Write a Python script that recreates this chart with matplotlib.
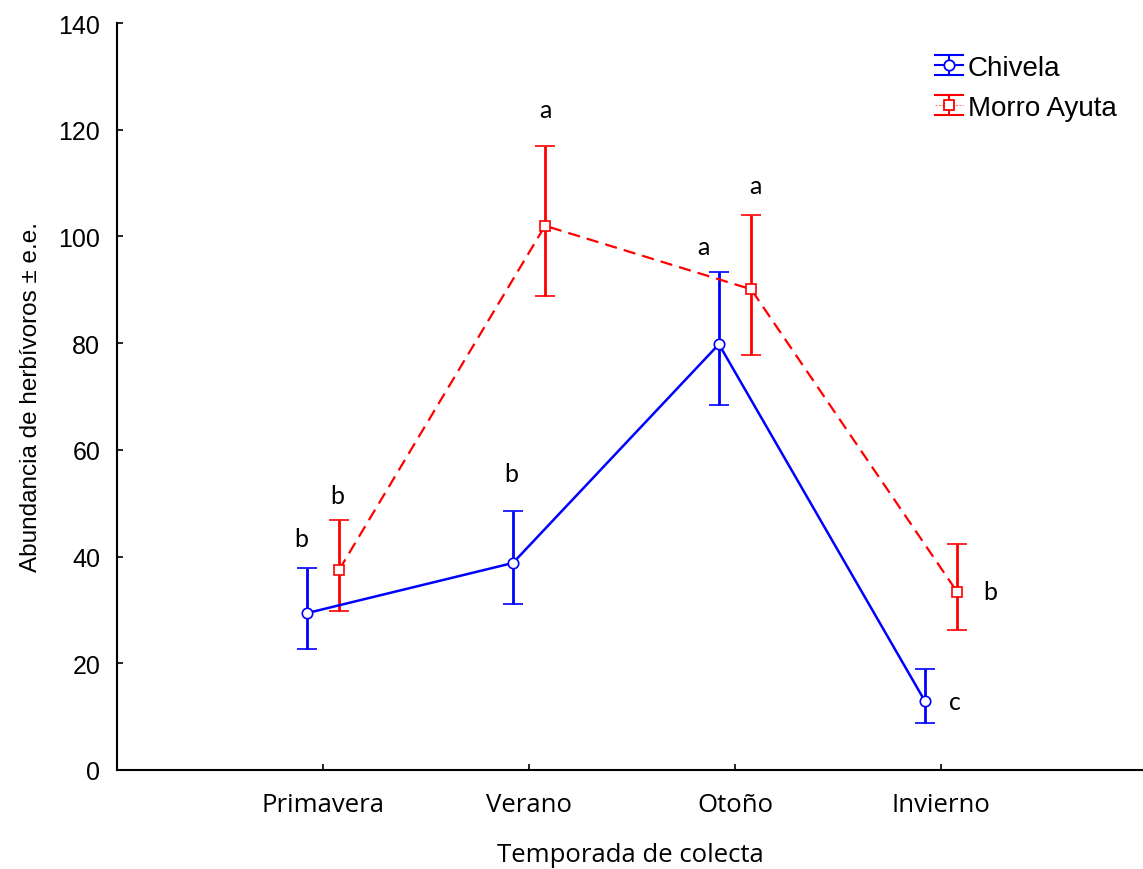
import matplotlib
matplotlib.use("Agg")
import matplotlib.pyplot as plt
from matplotlib.legend_handler import HandlerBase
from matplotlib.lines import Line2D
import numpy as np

# ---- data ----
seasons = ["Primavera", "Verano", "Otoño", "Invierno"]
chivela_mean = [29.4, 38.8, 79.8, 12.9]
chivela_upper = [37.9, 48.5, 93.3, 18.9]
chivela_lower = [22.7, 31.1, 68.4, 8.8]
morro_mean = [37.5, 102.0, 90.1, 33.4]
morro_upper = [46.9, 116.9, 104.0, 42.4]
morro_lower = [29.8, 88.8, 77.8, 26.2]
chivela_letters = ["b", "b", "a", "c"]
morro_letters = ["b", "a", "a", "b"]

# ---- figure ----
DPI = 100
W, H = 1143, 870
fig = plt.figure(figsize=(W / DPI, H / DPI), dpi=DPI)
ax = fig.add_axes([117/W, 1-771/H, 1-117/W, (771-24)/H])

x = np.arange(1, len(seasons) + 1)
off = 0.078
xc = x - off
xm = x + off

c_mean = np.array(chivela_mean)
m_mean = np.array(morro_mean)
c_err = [c_mean - np.array(chivela_lower), np.array(chivela_upper) - c_mean]
m_err = [m_mean - np.array(morro_lower), np.array(morro_upper) - m_mean]

BLUE = "#0000ff"
RED = "#ff0000"

eb1 = ax.errorbar(xc, c_mean, yerr=c_err, color=BLUE, lw=1.8, elinewidth=2.0,
                  capsize=7.5, capthick=2.0, marker="o", ms=7.5,
                  mfc="white", mec=BLUE, mew=1.2, label="Chivela", zorder=3)
eb2 = ax.errorbar(xm, m_mean, yerr=m_err, color=RED, lw=1.6, elinewidth=2.0,
                  capsize=7.5, capthick=2.0, marker="s", ms=7,
                  mfc="white", mec=RED, mew=1.2, label="Morro Ayuta", zorder=3)
eb2[0].set_dashes((5.5, 3.2))

# letters
letter_font = dict(family=["Lato", "DejaVu Sans"], fontsize=18, ha="center", va="center")
c_offsets = [(-6, 29), (-2, 38), (-15, 26), (30, 0)]
m_offsets = [(-2, 24), (0, 37), (4, 30), (33, 0)]
for i in range(len(seasons)):
    cy = chivela_upper[i] if i < 3 else chivela_mean[i]
    ax.annotate(chivela_letters[i], (xc[i], cy),
                xytext=(c_offsets[i][0]*72/DPI, c_offsets[i][1]*72/DPI),
                textcoords="offset points", **letter_font)
    my = morro_upper[i] if i < 3 else morro_mean[i]
    ax.annotate(morro_letters[i], (xm[i], my),
                xytext=(m_offsets[i][0]*72/DPI, m_offsets[i][1]*72/DPI),
                textcoords="offset points", **letter_font)

ax.set_xlim(0, 1026/206)
ax.set_ylim(0, 140)
ax.set_yticks(np.arange(0, 141, 20))
ax.set_xticks(x)
ax.set_xticklabels(seasons, fontsize=18.5, family=["Open Sans", "DejaVu Sans"])
for t in ax.get_yticklabels():
    t.set_fontfamily(["Liberation Sans", "DejaVu Sans"])
    t.set_fontsize(18)
ax.tick_params(direction="in", length=4, width=1.2)
ax.tick_params(axis="y", pad=12)
ax.tick_params(axis="x", pad=16)
for s in ["top", "right"]:
    ax.spines[s].set_visible(False)
for s in ["left", "bottom"]:
    ax.spines[s].set_linewidth(1.5)

ax.set_xlabel("Temporada de colecta", fontsize=18.5,
              family=["Open Sans", "DejaVu Sans"], labelpad=18)
ax.set_ylabel("Abundancia de herbívoros ± e.e.", fontsize=17.5,
              family=["Liberation Sans", "DejaVu Sans"], labelpad=12)


class ErrHandler(HandlerBase):
    def __init__(self, color, marker, ms, dashed):
        super().__init__()
        self.color = color
        self.marker = marker
        self.ms = ms
        self.dashed = dashed

    def create_artists(self, legend, orig_handle, xdescent, ydescent,
                       width, height, fontsize, trans):
        x0 = -xdescent
        x1 = x0 + width
        xm_ = (x0 + x1) / 2
        yc = -ydescent + height / 2
        h = 7.2
        arts = []
        for yy in (yc - h, yc + h):
            arts.append(Line2D([x0, x1], [yy, yy], color=self.color, lw=1.5))
        if self.dashed:
            arts.append(Line2D([x0, x1], [yc, yc], color=self.color, lw=0.7,
                               alpha=0.6, dashes=(2, 1.5)))
        else:
            arts.append(Line2D([x0, x1], [yc, yc], color=self.color, lw=1.5))
        arts.append(Line2D([xm_, xm_], [yc - h, yc + h], color=self.color, lw=1.5))
        arts.append(Line2D([xm_], [yc], marker=self.marker, ms=self.ms,
                           mfc="white", mec=self.color, mew=1.3, ls="none"))
        for a in arts:
            a.set_transform(trans)
        return arts


leg = ax.legend(handles=[eb1, eb2], labels=["Chivela", "Morro Ayuta"],
                handler_map={eb1: ErrHandler(BLUE, "o", 7.5, False),
                             eb2: ErrHandler(RED, "s", 7.5, True)},
                loc="upper left", bbox_to_anchor=(935/W, 1 - 56/H),
                bbox_transform=fig.transFigure, frameon=False,
                borderpad=0, borderaxespad=0,
                prop={"family": ["Liberation Sans", "DejaVu Sans"], "size": 20},
                handlelength=1.0, handletextpad=0.18, labelspacing=0.5)

fig.savefig("out.png", dpi=DPI)
